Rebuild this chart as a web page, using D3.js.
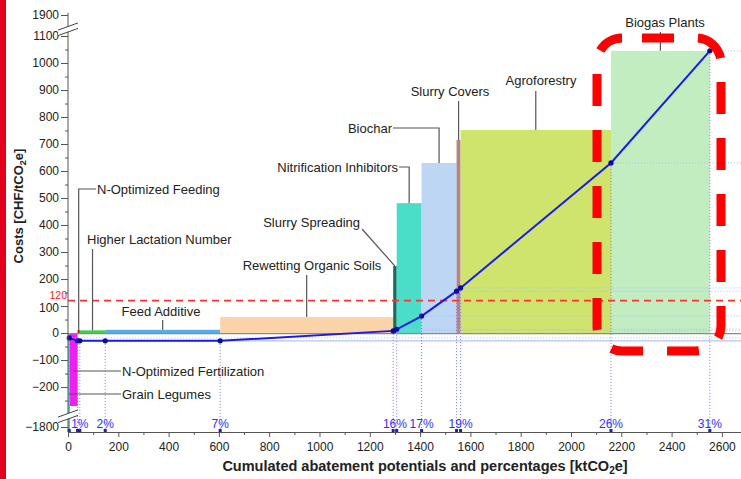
<!DOCTYPE html>
<html><head><meta charset="utf-8">
<script src="https://cdn.jsdelivr.net/npm/d3@7/dist/d3.min.js"></script>
<style>
body{margin:0;background:#fff}
svg{display:block}
text{font-family:"Liberation Sans",Arial,Helvetica,sans-serif}
</style>
</head><body>
<svg id="chart" width="741" height="479"></svg>
<script>
// ---------------- DATA ----------------
const measures = ["Grain Legumes","N-Optimized Fertilization","N-Optimized Feeding","Higher Lactation Number","Feed Additive","Rewetting Organic Soils","Slurry Spreading","Nitrification Inhibitors","Biochar","Slurry Covers","Agroforestry","Biogas Plants"];
const potentials = [8, 30, 9, 101, 457, 688, 14, 99, 139, 16, 598, 393];   // ktCO2e (bar widths)
const costs = [-1830, -270, 12, 10, 12, 59, 248, 481, 630, 715, 752, 1045]; // CHF/tCO2e
const curveKt = [5, 38, 47, 148, 605, 1293, 1307, 1406, 1545, 1561, 2159, 2552];
const curveCost = [-18, -29, -29, -29, -29, 8, 14, 63, 155, 167, 630, 1045];
const pctLabels = ["1%","2%","7%","16%","17%","19%","26%","31%"];
const pctKt = [47, 148, 605, 1300, 1406, 1561, 2159, 2552];
const xTickValues = d3.range(0, 2601, 200);
const xMinorValues = d3.range(100, 2700, 200);
const yTickValues = [-1800].concat(d3.range(-200, 1101, 100), [1900]);
const yMinorValues = d3.range(-250, 1100, 100);
const threshold = 120;

// ---------------- STYLE / LAYOUT ----------------
const colors = ["#3fdcd6","#f01ef0","#b0242a","#44cc44","#56aee2","#fbd3a8","#0f6f62","#4adec8","#bcd6f4","#b48383","#cfe46c","#c2edc1"];
// label layout: text position (px), anchor, leader type
const labelLayout = [
  {x:122, y:399, a:"start", t:"h", ly:394},
  {x:122, y:376, a:"start", t:"h", ly:371},
  {x:97,  y:194, a:"start", t:"hv", ly:189, lx0:96},
  {x:87,  y:244, a:"start", t:"v", ly:249},
  {x:161, y:316, a:"middle", t:"v", ly:320},
  {x:312, y:270, a:"middle", t:"v", ly:275},
  {x:360, y:227, a:"end", t:"d", ly:229, lx0:362},
  {x:398, y:172, a:"end", t:"hv", ly:167, lx0:399},
  {x:392, y:133, a:"end", t:"hv", ly:128, lx0:393},
  {x:450, y:96,  a:"middle", t:"v", ly:101},
  {x:541, y:85,  a:"middle", t:"v", ly:91},
  {x:665, y:27,  a:"middle", t:"v", ly:32}
];

const svg = d3.select("#chart");
const W = 741, H = 479;
const x0 = 68, xAxisY = 432;

const x = d3.scaleLinear().domain([0, 2676]).range([x0, W]);
const y = d3.scaleLinear()
  .domain([-1818.5, -1785, -285, 1125, 1880, 1908])
  .range([432, 423, 410, 29.25, 20.4, 12.84]);

// left red strip
svg.append("rect").attr("x",0).attr("y",0).attr("width",6).attr("height",H).attr("fill","#e2001a");

// bars
const starts = [];
let acc = 0;
potentials.forEach(p => { starts.push(acc); acc += p; });
const bars = measures.map((m,i) => ({name:m, x0:starts[i], x1:starts[i]+potentials[i], c:costs[i], color:colors[i]}));

const clampC = v => Math.max(v, -1818.5);
svg.append("g").selectAll("rect").data(bars).join("rect")
  .attr("x", d => x(d.x0))
  .attr("width", d => Math.max(0.5, x(d.x1) - x(d.x0)))
  .attr("y", d => Math.min(y(0), y(clampC(d.c))))
  .attr("height", d => Math.abs(y(clampC(d.c)) - y(0)))
  .attr("fill", d => d.color);

// zero line
svg.append("line").attr("x1",x0).attr("x2",W).attr("y1",y(0)+0.5).attr("y2",y(0)+0.5)
  .attr("stroke","#8a8a8a").attr("stroke-width",1.2);

// dotted guides
const pts = curveKt.map((k,i) => ({k, c:curveCost[i]}));
svg.append("g").selectAll("line.h").data(pts).join("line")
  .attr("x1", d => x(d.k)).attr("x2", W)
  .attr("y1", d => y(d.c)).attr("y2", d => y(d.c))
  .attr("stroke","#a9bcf5").attr("stroke-width",1).attr("stroke-dasharray","1,2");
svg.append("g").selectAll("line.v").data(pts).join("line")
  .attr("x1", d => x(d.k)).attr("x2", d => x(d.k))
  .attr("y1", d => y(d.c)).attr("y2", xAxisY)
  .attr("stroke","#7a7af0").attr("stroke-width",1).attr("stroke-dasharray","1,2");

// threshold dashed line
svg.append("line").attr("x1",x0).attr("x2",W).attr("y1",y(threshold)).attr("y2",y(threshold))
  .attr("stroke","#ff3030").attr("stroke-width",1.6).attr("stroke-dasharray","7,5");
svg.append("text").attr("x",67).attr("y",y(threshold)-2).attr("text-anchor","end")
  .attr("font-size",10.5).attr("fill","#ff2020").text(threshold);

// cumulative line
svg.append("path").datum(pts)
  .attr("d", d3.line().x(d => x(d.k)).y(d => y(d.c)))
  .attr("fill","none").attr("stroke","#1a1aee").attr("stroke-width",2);
svg.append("g").selectAll("circle").data(pts).join("circle")
  .attr("cx", d => x(d.k)).attr("cy", d => y(d.c)).attr("r",2.6).attr("fill","#0a0aa0");

// markers on x axis
svg.append("g").selectAll("rect").data(pts).join("rect")
  .attr("x", d => x(d.k)-1.5).attr("y", xAxisY-3).attr("width",3).attr("height",3).attr("fill","#1a1acc");

// percentage labels
svg.append("g").selectAll("text").data(pctKt).join("text")
  .attr("x", d => x(d)).attr("y", 427.5).attr("text-anchor","middle")
  .attr("font-size",12).attr("fill","#3030ff")
  .text((d,i) => pctLabels[i]);

// x axis
const gx = svg.append("g").attr("transform",`translate(0,${xAxisY})`);
gx.call(d3.axisBottom(x).tickValues(xTickValues).tickSize(5).tickSizeOuter(0).tickFormat(d3.format("d")));
gx.selectAll("text").attr("font-size",12).attr("fill","#222").attr("font-family",null).attr("dy","0.9em");
gx.selectAll("line").attr("stroke","#555");
gx.select(".domain").attr("stroke","#555");
const gxm = svg.append("g").attr("transform",`translate(0,${xAxisY})`);
gxm.call(d3.axisBottom(x).tickValues(xMinorValues).tickSize(3).tickFormat(""));
gxm.select(".domain").remove();
gxm.selectAll("line").attr("stroke","#555");

// y axis
const gy = svg.append("g").attr("transform",`translate(${x0},0)`);
gy.call(d3.axisLeft(y).tickValues(yTickValues).tickSize(7).tickFormat(d => d3.format("d")(d).replace("-","\u2212")));
gy.select(".domain").remove();
gy.selectAll("text").attr("font-size",12).attr("fill","#222").attr("font-family",null).attr("x",-9);
gy.selectAll(".tick").filter(d => d === 100).select("text").attr("dy","0.42em");
gy.selectAll("line").attr("stroke","#555");
const gym = svg.append("g").attr("transform",`translate(${x0},0)`);
gym.call(d3.axisLeft(y).tickValues(yMinorValues).tickSize(3).tickFormat(""));
gym.select(".domain").remove();
gym.selectAll("line").attr("stroke","#555");

// y axis line with breaks
svg.append("line").attr("x1",x0).attr("x2",x0).attr("y1",y(1908)).attr("y2",xAxisY)
  .attr("stroke","#555").attr("stroke-width",1);
function brk(cy1, cy2){
  const s = 0.36, xa = 58, xb = 78;
  const yy = (cy, xx) => cy - s*(xx - x0);
  svg.append("path")
    .attr("d", `M${xa},${yy(cy1,xa)}L${xb},${yy(cy1,xb)}L${xb},${yy(cy2,xb)}L${xa},${yy(cy2,xa)}Z`)
    .attr("fill","#fff");
  [cy1, cy2].forEach(cy => svg.append("line")
    .attr("x1",xa).attr("y1",yy(cy,xa)).attr("x2",xb).attr("y2",yy(cy,xb))
    .attr("stroke","#444").attr("stroke-width",1));
}
brk(26.5, 32);
brk(413.5, 419);

// labels + leaders
const leaderG = svg.append("g").attr("stroke","#555").attr("fill","none").attr("stroke-width",1.2);
bars.forEach((b,i) => {
  const L = labelLayout[i];
  const mx = (x(b.x0) + x(b.x1)) / 2;
  const top = y(clampC(b.c));
  let d;
  if (L.t === "v") d = `M${mx},${L.ly}V${top}`;
  else if (L.t === "hv") d = `M${L.lx0},${L.ly}H${mx}V${top}`;
  else if (L.t === "h") d = `M${mx},${L.ly}H${L.x-1}`;
  else d = `M${L.lx0},${L.ly}L${mx},${top}`;
  leaderG.append("path").attr("d", d);
  svg.append("text").attr("x",L.x).attr("y",L.y).attr("text-anchor",L.a)
    .attr("font-size",13).attr("fill","#222").text(b.name);
});

// axis titles
const yt = svg.append("text").attr("transform","translate(23,206) rotate(-90)")
  .attr("text-anchor","middle").attr("font-size",13).attr("font-weight","bold").attr("fill","#222");
yt.append("tspan").text("Costs [CHF/tCO");
yt.append("tspan").attr("font-size",9).attr("dy",3).text("2");
yt.append("tspan").attr("dy",-3).text("e]");

const xt = svg.append("text").attr("x",425).attr("y",471)
  .attr("text-anchor","middle").attr("font-size",14.5).attr("font-weight","bold").attr("fill","#222");
xt.append("tspan").text("Cumulated abatement potentials and percentages [ktCO");
xt.append("tspan").attr("font-size",10).attr("dy",3).text("2");
xt.append("tspan").attr("dy",-3).text("e]");

// highlight box around biogas plants
svg.append("rect").attr("x",597).attr("y",38).attr("width",124).attr("height",313)
  .attr("rx",25).attr("ry",25).attr("fill","none")
  .attr("stroke","#ff0000").attr("stroke-width",9)
  .attr("stroke-dasharray","32,24").attr("stroke-dashoffset",36);
</script>
</body></html>
